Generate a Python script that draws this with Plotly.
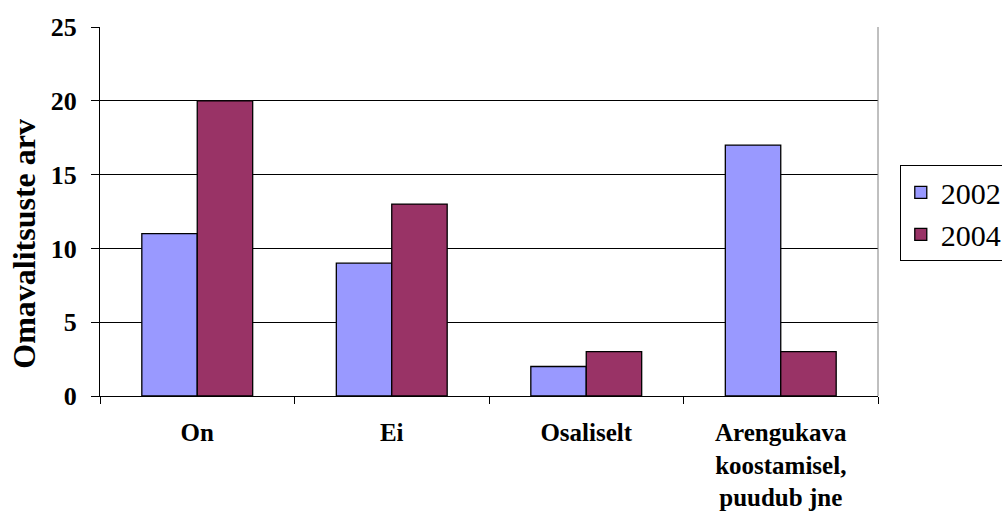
import plotly.graph_objects as go

categories = ["On", "Ei", "Osaliselt", "Arengukava<br>koostamisel,<br>puudub jne"]
values_2002 = [11, 9, 2, 17]
values_2004 = [20, 13, 3, 3]
y_ticks = [0, 5, 10, 15, 20, 25]
y_title = "Omavalitsuste arv"

FONT = "Liberation Serif, Times New Roman, serif"

fig = go.Figure()
fig.add_trace(go.Bar(
    name="2002", x=categories, y=values_2002,
    marker=dict(color="#9999FF", line=dict(color="black", width=1.3)),
))
fig.add_trace(go.Bar(
    name="2004", x=categories, y=values_2004,
    marker=dict(color="#993366", line=dict(color="black", width=1.3)),
))

fig.update_layout(
    width=1002, height=514,
    margin=dict(l=100, r=124, t=27, b=118, autoexpand=False),
    paper_bgcolor="white", plot_bgcolor="white",
    barmode="group", bargap=0.43, bargroupgap=0,
    font=dict(family=FONT, color="black"),
    legend=dict(
        x=1.028, xanchor="left", y=0.625, yanchor="top",
        bordercolor="black", borderwidth=1, bgcolor="white",
        font=dict(family=FONT, size=30, color="black"),
        tracegroupgap=0,
    ),
    showlegend=True,
)

fig.update_yaxes(
    range=[0, 25], tickvals=y_ticks,
    showgrid=True, gridcolor="black", gridwidth=1,
    showline=True, linecolor="black", linewidth=1,
    ticks="outside", ticklen=8, tickcolor="black",
    tickfont=dict(family=FONT, size=26, color="black", weight="bold"),
    ticklabelstandoff=9,
    zeroline=False,
)
fig.update_xaxes(
    showline=True, linecolor="black", linewidth=1,
    ticks="outside", ticklen=7, tickcolor="black", tickson="boundaries",
    tickfont=dict(family=FONT, size=25, color="black", weight="bold"),
    ticklabelstandoff=14,
)

# vertical axis title, set slightly below the middle of the plot
fig.add_annotation(
    text=f"<b>{y_title}</b>", textangle=-90,
    xref="paper", yref="paper", x=-0.098, y=0.412,
    xanchor="center", yanchor="middle", showarrow=False,
    font=dict(family=FONT, size=32, color="black"),
)

# light grey frame on the right edge of the plotting area
fig.add_shape(type="line", xref="paper", yref="paper", x0=1, x1=1, y0=0, y1=1,
              line=dict(color="#808080", width=1))

fig.write_html("out.html")
